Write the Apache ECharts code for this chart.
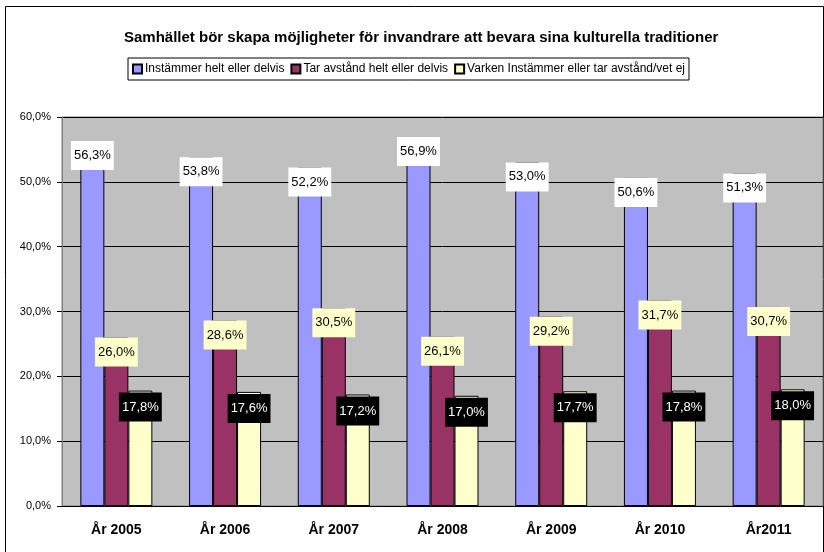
<!DOCTYPE html>
<html>
<head>
<meta charset="utf-8">
<script src="https://cdn.jsdelivr.net/npm/echarts@6/dist/echarts.min.js"></script>
<style>
	html, body { margin: 0; padding: 0; background: #fff; }
	#main { width: 824px; height: 552px; }
</style>
</head>
<body>
<div id="main"></div>
<script>
var years = [ 'År 2005', 'År 2006', 'År 2007', 'År 2008', 'År 2009', 'År 2010', 'År2011' ];
var seriesNames = [ 'Instämmer helt eller delvis', 'Tar avstånd helt eller delvis',
		'Varken Instämmer eller tar avstånd/vet ej' ];
var instammer = [ 56.3, 53.8, 52.2, 56.9, 53.0, 50.6, 51.3 ];
var tarAvstand = [ 26.0, 28.6, 30.5, 26.1, 29.2, 31.7, 30.7 ];
var varken = [ 17.8, 17.6, 17.2, 17.0, 17.7, 17.8, 18.0 ];

var font = 'Arial, "Liberation Sans", sans-serif';

function pct(v) {
	return v.toFixed(1).replace('.', ',') + '%';
}

// en serie med etikett i egen ruta
function makeSeries(name, data, color, labelBg, labelColor, padTop) {
	return {
		name : name,
		type : 'bar',
		data : data,
		barWidth : 24,
		barGap : '0%',
		itemStyle : {
			color : color,
			borderColor : '#000',
			borderWidth : 1
		},
		label : {
			show : true,
			position : 'insideTop',
			distance : padTop,
			formatter : function(p) {
				return pct(p.value);
			},
			fontFamily : font,
			fontSize : 13,
			color : labelColor,
			backgroundColor : labelBg,
			padding : [ 8, 3, 8, 3 ]
		}
	};
}

var myChart = echarts.init(document.getElementById('main'));
var option = {
	animation : false,
	backgroundColor : '#fff',
	graphic : [ {
		type : 'rect',
		shape : { x : 5.5, y : 6.5, width : 818, height : 560 },
		style : { fill : 'none', stroke : '#000', lineWidth : 1 },
		z : -1
	} ],
	title : {
		text : 'Samhället bör skapa möjligheter för invandrare att bevara sina kulturella traditioner',
		left : 119,
		top : 25,
		textStyle : {
			fontFamily : font,
			fontSize : 15,
			fontWeight : 'bold',
			color : '#000'
		}
	},
	legend : {
		data : seriesNames,
		left : 128,
		top : 58,
		width : 565,
		itemGap : 6,
		itemWidth : 9,
		itemHeight : 9,
		icon : 'rect',
		padding : [ 5, 4, 5, 4 ],
		borderColor : '#000',
		borderWidth : 1,
		textStyle : {
			fontFamily : font,
			fontSize : 12,
			color : '#000',
			padding : [ 0, 0, 0, -2 ]
		}
	},
	grid : {
		left : 62,
		right : 1,
		top : 117,
		bottom : 46,
		show : true,
		backgroundColor : '#C0C0C0',
		borderColor : '#808080',
		borderWidth : 1
	},
	xAxis : {
		type : 'category',
		data : years,
		axisLine : { lineStyle : { color : '#000', width : 1 } },
		axisTick : { length : 5, lineStyle : { color : '#000' } },
		axisLabel : {
			margin : 17,
			fontFamily : font,
			fontSize : 14,
			fontWeight : 'bold',
			color : '#000'
		}
	},
	yAxis : {
		type : 'value',
		min : 0,
		max : 60,
		interval : 10,
		axisLine : { show : true, lineStyle : { color : '#808080' } },
		axisTick : { show : true, length : 5, lineStyle : { color : '#000' } },
		splitLine : { lineStyle : { color : '#000', width : 1 } },
		axisLabel : {
			margin : 11,
			fontFamily : font,
			fontSize : 11,
			color : '#000',
			formatter : function(v) {
				return pct(v);
			}
		}
	},
	series : [ makeSeries(seriesNames[0], instammer, '#9999FF', '#fff', '#000', 0),
			makeSeries(seriesNames[1], tarAvstand, '#993366', '#FFFFCC', '#000', 0),
			makeSeries(seriesNames[2], varken, '#FFFFCC', '#000', '#fff', 2) ]
};
myChart.setOption(option);
</script>
</body>
</html>
